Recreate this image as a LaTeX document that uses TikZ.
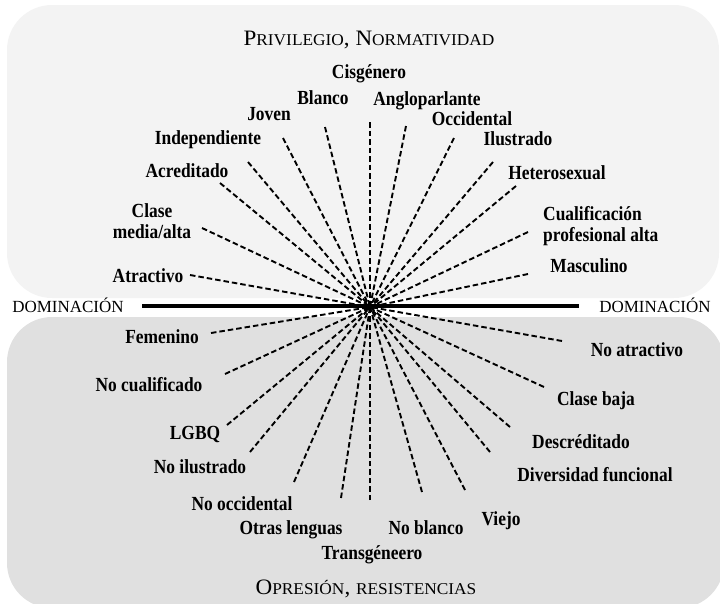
\documentclass[tikz,border=0pt]{standalone}
\usepackage{fontspec}
\setmainfont{Liberation Serif}
\newfontfamily\labfont[FakeStretch=0.87]{Liberation Serif}
\usepackage{graphicx}
\definecolor{topfill}{RGB}{243,243,243}
\definecolor{botfill}{RGB}{224,224,224}
\newcommand{\capA}[1]{{\fontsize{22}{26}\selectfont #1}}
\newcommand{\capB}[1]{{\fontsize{16.5}{20}\selectfont #1}}
\begin{document}
\begin{tikzpicture}[x=1pt,y=-1pt,
  lab/.style={font=\labfont\bfseries\fontsize{20}{21}\selectfont, inner sep=0pt, anchor=base},
  dom/.style={font=\fontsize{17}{19}\selectfont, inner sep=0pt, anchor=base},
  ttl/.style={inner sep=0pt, anchor=base},
  ray/.style={line width=1.9pt, dash pattern=on 5.5pt off 3pt},
  axis/.style={line width=4pt}]
\useasboundingbox (0,0) rectangle (720,603);
\fill[topfill, rounded corners=45pt] (7,5) rectangle (719,298);
\fill[botfill, rounded corners=45pt] (7,317) rectangle (724,608);

% titles
\node[ttl] (tP) at (369,45.5) {\scalebox{1.05}[1]{\capA{P}\capB{RIVILEGIO}\capA{, N}\capB{ORMATIVIDAD}}};
\node[ttl] (tO) at (366,594) {\scalebox{1.05}[1]{\capA{O}\capB{PRESIÓN}\capA{, }\capB{RESISTENCIAS}}};

% axis
\node[dom] (domL) at (68,312) {DOMINACIÓN};
\node[dom] (domR) at (655,312) {DOMINACIÓN};
\coordinate (axL) at (142,306);
\coordinate (axR) at (579,306);
\draw[axis] (axL) -- (axR);

\coordinate (c) at (370,307);

% upper labels
\node[lab] (cis) at (369,78) {Cisgénero};
\node[lab] (bla) at (323,104) {Blanco};
\node[lab] (ang) at (427,105) {Angloparlante};
\node[lab] (jov) at (269,120) {Joven};
\node[lab] (occ) at (472,125) {Occidental};
\node[lab] (ind) at (208,144) {Independiente};
\node[lab] (ilu) at (518,145) {Ilustrado};
\node[lab] (acr) at (187,177) {Acreditado};
\node[lab] (het) at (557,179) {Heterosexual};
\node[lab, align=center] (cla) at (152,238) {Clase\\media/alta};
\node[lab, align=left, anchor=base west] (cua) at (543,241) {Cualificación\\profesional alta};
\node[lab] (mas) at (589,272) {Masculino};
\node[lab] (atr) at (148,282) {Atractivo};

% lower labels
\node[lab] (fem) at (162,343) {Femenino};
\node[lab] (nat) at (637,356) {No atractivo};
\node[lab] (ncu) at (149,391) {No cualificado};
\node[lab] (cba) at (596,405) {Clase baja};
\node[lab] (lgb) at (195,439) {LGBQ};
\node[lab] (des) at (581,448) {Descréditado};
\node[lab] (nil) at (200,473) {No ilustrado};
\node[lab] (div) at (595,481) {Diversidad funcional};
\node[lab] (noc) at (242,510) {No occidental};
\node[lab] (vie) at (501,525) {Viejo};
\node[lab] (otr) at (291,534) {Otras lenguas};
\node[lab] (nbl) at (426,534) {No blanco};
\node[lab] (tra) at (372,559) {Transgéneero};

% ray ends
\foreach \n/\x/\y in {
  rcis/370/122, rbla/325/127, rang/406/126, rjov/283/138, rocc/454/138,
  rind/248/162, rilu/493/162, racr/220/183, rhet/516/186, rcla/202/228,
  rcua/528/232, rmas/528/274, ratr/190/275,
  rfem/211/333, rnat/562/341, rncu/225/374, rcba/544/387, rlgb/227/425,
  rdes/510/427, rnil/250/452, rdiv/490/452, rnoc/294/482, rvie/465/490,
  rotr/341/498, rnbl/422/492, rtra/370/500}
  {\coordinate (\n) at (\x,\y);}

\foreach \n in {rcis,rbla,rang,rjov,rocc,rind,rilu,racr,rhet,rcla,rcua,rmas,ratr,
  rfem,rnat,rncu,rcba,rlgb,rdes,rnil,rdiv,rnoc,rvie,rotr,rnbl,rtra}
  {\draw[ray] (\n) -- (c);}
\end{tikzpicture}
\end{document}
